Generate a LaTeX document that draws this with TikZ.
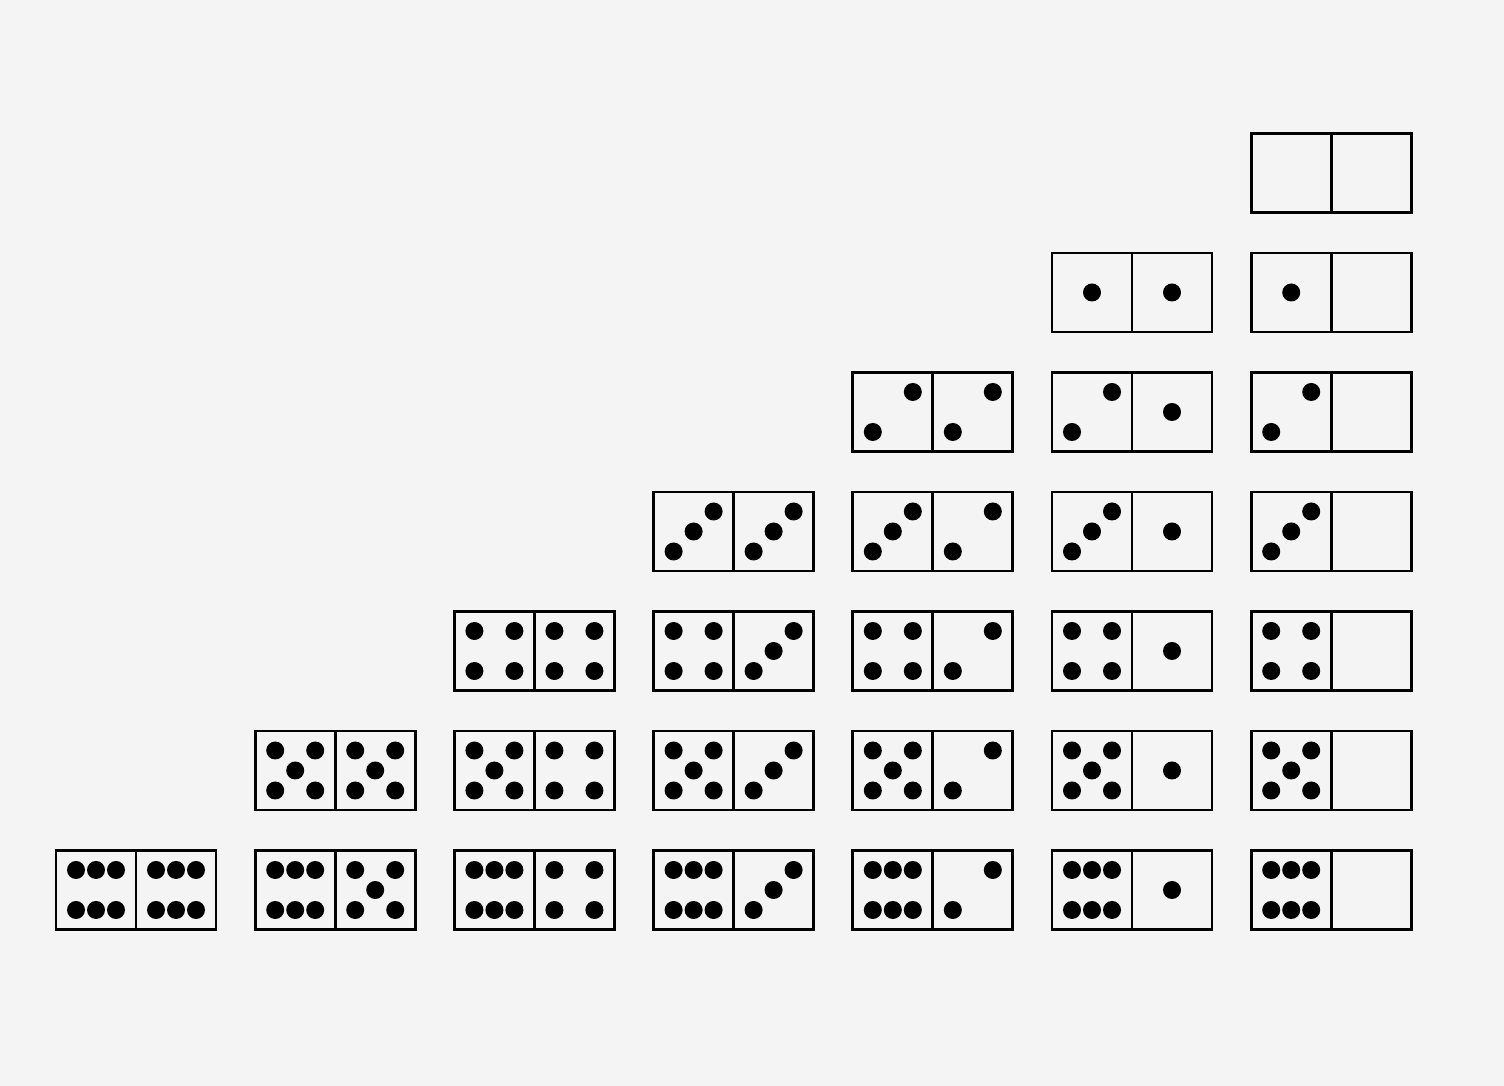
\documentclass[tikz,border=0pt]{standalone}
\usepackage{tikz}

\definecolor{paper}{HTML}{F4F4F4}

\tikzset{
  domino/.style={draw=black, line width=0.75pt},
  pipdot/.style={fill=black}
}

% pips of one half, drawn round the origin of the current scope
\newcommand{\pip}[2]{\fill[pipdot] (#1,#2) circle (0.09);}
\newcommand{\pips}[1]{%
  \ifcase#1
  \or \pip{0}{0}
  \or \pip{-0.2}{-0.2}\pip{0.2}{0.2}
  \or \pip{-0.2}{-0.2}\pip{0}{0}\pip{0.2}{0.2}
  \or \pip{-0.2}{-0.2}\pip{0.2}{-0.2}\pip{-0.2}{0.2}\pip{0.2}{0.2}
  \or \pip{-0.2}{-0.2}\pip{0.2}{-0.2}\pip{-0.2}{0.2}\pip{0.2}{0.2}\pip{0}{0}
  \or \pip{-0.2}{-0.2}\pip{0}{-0.2}\pip{0.2}{-0.2}\pip{-0.2}{0.2}\pip{0}{0.2}\pip{0.2}{0.2}
  \fi}

% one domino: centre x, centre y, left value, right value
\newcommand{\domino}[4]{%
  \begin{scope}[shift={(#1,#2)}]
    \draw[domino] (-0.8,-0.395) rectangle (0.8,0.395);
    \draw[domino] (0,-0.395) -- (0,0.395);
    \begin{scope}[xshift=-0.4cm]\pips{#3}\end{scope}
    \begin{scope}[xshift=0.4cm]\pips{#4}\end{scope}
  \end{scope}}

\begin{document}
\begin{tikzpicture}

        \def\xzero{1.36}     % centre of the first column
        \def\yzero{9.13}     % centre of the top row
        \def\colsep{1.992}   % distance between columns
        \def\rowsep{-1.195}  % distance between rows

        % Background of the page
        \fill[paper] (0,0) rectangle (15.04,10.86);
        \useasboundingbox (0,0) rectangle (15.04,10.86);

        % Row 0: blanks
        \domino{\xzero+6*\colsep}{\yzero}{0}{0}

        % Row 1: ones
        \domino{\xzero+5*\colsep}{\yzero+\rowsep}{1}{1}
        \domino{\xzero+6*\colsep}{\yzero+\rowsep}{1}{0}

        % Row 2: twos
        \domino{\xzero+4*\colsep}{\yzero+2*\rowsep}{2}{2}
        \domino{\xzero+5*\colsep}{\yzero+2*\rowsep}{2}{1}
        \domino{\xzero+6*\colsep}{\yzero+2*\rowsep}{2}{0}

        % Row 3: threes
        \domino{\xzero+3*\colsep}{\yzero+3*\rowsep}{3}{3}
        \domino{\xzero+4*\colsep}{\yzero+3*\rowsep}{3}{2}
        \domino{\xzero+5*\colsep}{\yzero+3*\rowsep}{3}{1}
        \domino{\xzero+6*\colsep}{\yzero+3*\rowsep}{3}{0}

        % Row 4: fours
        \domino{\xzero+2*\colsep}{\yzero+4*\rowsep}{4}{4}
        \domino{\xzero+3*\colsep}{\yzero+4*\rowsep}{4}{3}
        \domino{\xzero+4*\colsep}{\yzero+4*\rowsep}{4}{2}
        \domino{\xzero+5*\colsep}{\yzero+4*\rowsep}{4}{1}
        \domino{\xzero+6*\colsep}{\yzero+4*\rowsep}{4}{0}

        % Row 5: fives
        \domino{\xzero+1*\colsep}{\yzero+5*\rowsep}{5}{5}
        \domino{\xzero+2*\colsep}{\yzero+5*\rowsep}{5}{4}
        \domino{\xzero+3*\colsep}{\yzero+5*\rowsep}{5}{3}
        \domino{\xzero+4*\colsep}{\yzero+5*\rowsep}{5}{2}
        \domino{\xzero+5*\colsep}{\yzero+5*\rowsep}{5}{1}
        \domino{\xzero+6*\colsep}{\yzero+5*\rowsep}{5}{0}

        % Row 6: sixes
        \domino{\xzero}{\yzero+6*\rowsep}{6}{6}
        \domino{\xzero+1*\colsep}{\yzero+6*\rowsep}{6}{5}
        \domino{\xzero+2*\colsep}{\yzero+6*\rowsep}{6}{4}
        \domino{\xzero+3*\colsep}{\yzero+6*\rowsep}{6}{3}
        \domino{\xzero+4*\colsep}{\yzero+6*\rowsep}{6}{2}
        \domino{\xzero+5*\colsep}{\yzero+6*\rowsep}{6}{1}
        \domino{\xzero+6*\colsep}{\yzero+6*\rowsep}{6}{0}

\end{tikzpicture}
\end{document}
